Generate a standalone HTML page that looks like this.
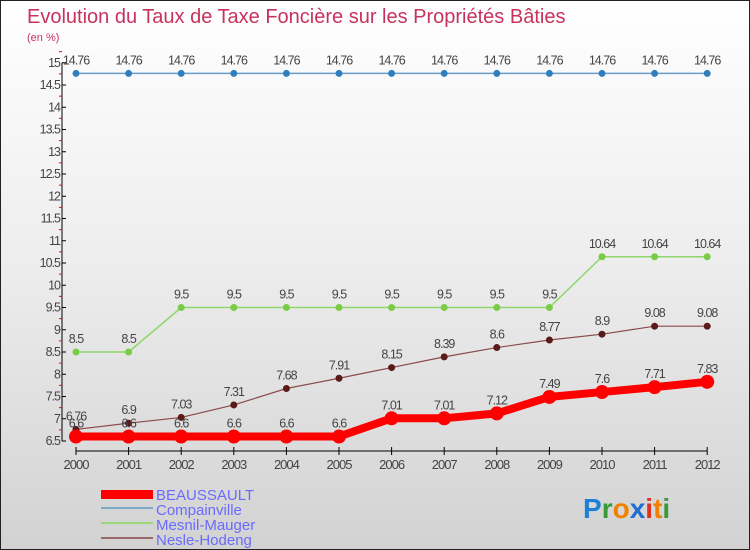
<!DOCTYPE html>
<html><head><meta charset="utf-8"><style>
body{margin:0}
#c{width:750px;height:550px;position:relative;box-sizing:border-box;border:1px solid #222;background:linear-gradient(#fff 0%,#ececec 50%,#d2d2d2 100%);font-family:"Liberation Sans",sans-serif;overflow:hidden}
svg text{font-family:"Liberation Sans",sans-serif}
</style></head><body>
<div id="c">
<svg id="s" width="750" height="550">
<text x="26" y="22" font-size="20" fill="#c8325f">Evolution du Taux de Taxe Foncière sur les Propriétés Bâties</text>
<text x="26" y="40" font-size="11" fill="#c8325f">(en %)</text>
<g id="axes"></g><g id="series"></g>
<g>
<rect x="100" y="489" width="52" height="9" fill="#f00"/>
<text x="155" y="499" font-size="15" fill="#6a6aff">BEAUSSAULT</text>
<rect x="100" y="506" width="52" height="2" fill="#7aaac8"/>
<text x="155" y="514" font-size="15" fill="#6a6aff">Compainville</text>
<rect x="100" y="521" width="52" height="2" fill="#99d97a"/>
<text x="155" y="529" font-size="15" fill="#6a6aff">Mesnil-Mauger</text>
<rect x="100" y="536" width="52" height="2" fill="#9a6a6a"/>
<text x="155" y="544" font-size="15" fill="#6a6aff">Nesle-Hodeng</text>
</g>
<g font-size="28" font-weight="bold">
<text x="582" y="517"><tspan fill="#1e7fd6">P</tspan><tspan fill="#3a9a3a">r</tspan><tspan fill="#f08000">o</tspan><tspan fill="#1e6fd0">x</tspan><tspan fill="#e03020">i</tspan><tspan fill="#f08000">t</tspan><tspan fill="#3a9a3a">i</tspan></text>
</g>
</svg></div>
<script>
const years=[2000,2001,2002,2003,2004,2005,2006,2007,2008,2009,2010,2011,2012];
const beaussault=[6.6,6.6,6.6,6.6,6.6,6.6,7.01,7.01,7.12,7.49,7.6,7.71,7.83];
const compainville=[14.76,14.76,14.76,14.76,14.76,14.76,14.76,14.76,14.76,14.76,14.76,14.76,14.76];
const mesnil=[8.5,8.5,9.5,9.5,9.5,9.5,9.5,9.5,9.5,9.5,10.64,10.64,10.64];
const nesle=[6.76,6.9,7.03,7.31,7.68,7.91,8.15,8.39,8.6,8.77,8.9,9.08,9.08];
const yTicks=[6.5,7,7.5,8,8.5,9,9.5,10,10.5,11,11.5,12,12.5,13,13.5,14,14.5,15];
const NS="http://www.w3.org/2000/svg";
const X=i=>75+i*52.6;
const Y=v=>440-(v-6.5)*44.5;
const ax=document.getElementById('axes'),sg=document.getElementById('series');
function mk(t,a,p){const e=document.createElementNS(NS,t);for(const k in a)e.setAttribute(k,a[k]);p.appendChild(e);return e;}
let l=mk('line',{x1:61,y1:Y(15),x2:61,y2:Y(6.5),stroke:'#000'},ax);


yTicks.forEach(v=>{
 mk('line',{x1:61,x2:65,y1:Y(v),y2:Y(v),stroke:'#000'},ax);
 mk('line',{x1:58,x2:61,y1:Y(v+0.25),y2:Y(v+0.25),stroke:'#f00'},ax);
 const t=mk('text',{x:59,y:Y(v)+4,'font-size':12.5,fill:'#444','text-anchor':'end','letter-spacing':'-1'},ax);
 t.textContent=String(v);
 
 
});
l=mk('line',{x1:X(0),x2:X(12),y1:450,y2:450,stroke:'#000'},ax);


years.forEach((y,i)=>{
 mk('line',{x1:X(i),x2:X(i),y1:446,y2:454,stroke:'#000'},ax);
 const t=mk('text',{x:X(i),y:468,'font-size':13,fill:'#444','text-anchor':'middle','letter-spacing':'-1'},ax);
 t.textContent=y;
 
 
});
function series(vals,name,color,dot,w,r){
 const g=mk('g',{},sg);
 
 
 const p=mk('polyline',{points:vals.map((v,i)=>X(i)+','+Y(v)).join(' '),fill:'none',stroke:color,'stroke-width':w},g);
 
 
 vals.forEach((v,i)=>{
  const c=mk('circle',{cx:X(i),cy:Y(v),r:r,fill:dot},g);
  
  
  const t=mk('text',{x:X(i),y:Y(v)-9,'font-size':12.5,fill:'#444','text-anchor':'middle','letter-spacing':'-1'},g);
  t.textContent=String(v);
  
  
 });
}
series(compainville,'compainville','#6a9cc8','#2e7fc0',1.5,3.5);
series(mesnil,'mesnil-mauger','#8ed66a','#7acc44',1.5,3.5);
series(nesle,'nesle-hodeng','#8a4a4a','#5a1a1a',1.2,3.5);
series(beaussault,'beaussault','#f00','#f00',8,7);
</script>
</body></html>
